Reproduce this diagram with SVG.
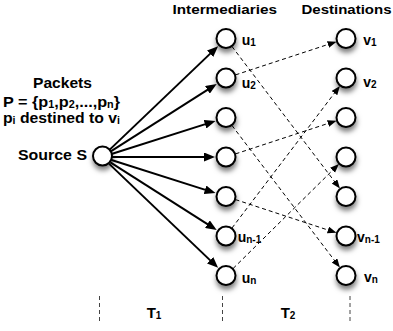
<svg xmlns="http://www.w3.org/2000/svg" width="393" height="331" viewBox="0 0 393 331">
<style>
  text { font-family: "Liberation Sans", Arial, Helvetica, sans-serif; font-weight: bold; fill: #000; }
  .hdr { font-size: 13.5px; }
  .lbl { font-size: 15px; }
  .nl { font-size: 14px; }
  .sub { font-size: 10px; }
  .node { fill: #fff; stroke: #000; stroke-width: 2; filter: url(#sh); }
  .solid { stroke: #000; stroke-width: 2; fill: none; marker-end: url(#ah); }
  .dash { stroke: #000; stroke-width: 1; fill: none; stroke-dasharray: 4 3; marker-end: url(#ahs); }
  .guide { stroke: #444; stroke-width: 1; stroke-dasharray: 4 3; fill: none; }
</style>
<defs>
  <filter id="sh" x="-80%" y="-80%" width="260%" height="280%">
    <feDropShadow dx="0.5" dy="4" stdDeviation="2.5" flood-color="#000" flood-opacity="0.5"/>
  </filter>
  <marker id="ah" markerUnits="userSpaceOnUse" markerWidth="12" markerHeight="9" refX="7" refY="4.5" orient="auto">
    <path d="M0,0 L11,4.5 L0,9 z" fill="#000"/>
  </marker>
  <marker id="ahs" markerUnits="userSpaceOnUse" markerWidth="10" markerHeight="8" refX="6" refY="3.5" orient="auto">
    <path d="M0,0 L9,3.5 L0,7 z" fill="#000"/>
  </marker>
</defs>

<g id="labels">
  <text class="hdr" x="172.5" y="13.5" textLength="104.5" lengthAdjust="spacingAndGlyphs">Intermediaries</text>
  <text class="hdr" x="301.5" y="13.5" textLength="90" lengthAdjust="spacingAndGlyphs">Destinations</text>
  <text class="lbl" x="33" y="88.3" textLength="59" lengthAdjust="spacingAndGlyphs">Packets</text>
  <text class="lbl" x="3" y="106.5" textLength="117" lengthAdjust="spacingAndGlyphs">P = {p<tspan class="sub" dy="1">1</tspan><tspan dy="-1">,p</tspan><tspan class="sub" dy="1">2</tspan><tspan dy="-1">,...,p</tspan><tspan class="sub" dy="1">n</tspan><tspan dy="-1">}</tspan></text>
  <text class="lbl" x="3" y="123.3" textLength="117" lengthAdjust="spacingAndGlyphs">p<tspan class="sub" dy="1">i</tspan><tspan dy="-1"> destined to v</tspan><tspan class="sub" dy="1">i</tspan></text>
  <text class="lbl" x="18" y="160" textLength="69" lengthAdjust="spacingAndGlyphs">Source S</text>
  <text class="lbl" x="146.7" y="317.7">T<tspan class="sub" dy="1">1</tspan></text>
  <text class="lbl" x="280.7" y="317.7">T<tspan class="sub" dy="1">2</tspan></text>
</g>

<g id="guides">
  <line class="guide" x1="99.5" y1="296" x2="99.5" y2="324"/>
  <line class="guide" x1="222.5" y1="296" x2="222.5" y2="324"/>
  <line class="guide" x1="350" y1="296" x2="350" y2="324"/>
</g>

<g id="connectors">
  <line class="solid" x1="109.2" y1="150.1" x2="215.2" y2="48.9"/>
  <line class="solid" x1="110.4" y1="151.6" x2="213.3" y2="86.1"/>
  <line class="solid" x1="111.5" y1="154.0" x2="211.7" y2="122.1"/>
  <line class="solid" x1="112" y1="157" x2="211" y2="157"/>
  <line class="solid" x1="111.5" y1="160.0" x2="211.7" y2="191.9"/>
  <line class="solid" x1="110.4" y1="162.4" x2="213.3" y2="227.9"/>
  <line class="solid" x1="109.2" y1="163.9" x2="215.2" y2="265.1"/>

  <line class="dash" x1="232.0" y1="46.5" x2="338.1" y2="186.2"/>
  <line class="dash" x1="235.5" y1="74.9" x2="333.7" y2="42.6"/>
  <line class="dash" x1="232.0" y1="125.5" x2="338.1" y2="265.2"/>
  <line class="dash" x1="235.5" y1="153.9" x2="333.7" y2="121.6"/>
  <line class="dash" x1="235.5" y1="199.6" x2="333.7" y2="231.9"/>
  <line class="dash" x1="232.0" y1="228.0" x2="338.1" y2="88.3"/>
  <line class="dash" x1="233.1" y1="268.5" x2="336.8" y2="166.1"/>
</g>

<g id="S"><circle class="node" cx="102.5" cy="156" r="9.5"/></g>

<g id="u1"><circle class="node" cx="226" cy="38.5" r="9.5"/><text class="nl" x="241.7" y="45">u<tspan class="sub" dy="1">1</tspan></text></g>
<g id="u2"><circle class="node" cx="226" cy="78" r="9.5"/><text class="nl" x="241.7" y="88.3">u<tspan class="sub" dy="1">2</tspan></text></g>
<g id="u3"><circle class="node" cx="226" cy="117.5" r="9.5"/></g>
<g id="u4"><circle class="node" cx="226" cy="157" r="9.5"/></g>
<g id="u5"><circle class="node" cx="226" cy="196.5" r="9.5"/></g>
<g id="un-1"><circle class="node" cx="226" cy="236" r="9.5"/><text class="nl" x="237.7" y="241.7">u<tspan class="sub" dy="1">n-1</tspan></text></g>
<g id="un"><circle class="node" cx="226" cy="275.5" r="9.5"/><text class="nl" x="241.7" y="282.7">u<tspan class="sub" dy="1">n</tspan></text></g>

<g id="v1"><circle class="node" cx="346" cy="38.5" r="9.5"/><text class="nl" x="363.3" y="45">v<tspan class="sub" dy="1">1</tspan></text></g>
<g id="v2"><circle class="node" cx="346" cy="78" r="9.5"/><text class="nl" x="363.3" y="86.7">v<tspan class="sub" dy="1">2</tspan></text></g>
<g id="v3"><circle class="node" cx="346" cy="117.5" r="9.5"/></g>
<g id="v4"><circle class="node" cx="346" cy="157" r="9.5"/></g>
<g id="v5"><circle class="node" cx="346" cy="196.5" r="9.5"/></g>
<g id="vn-1"><circle class="node" cx="346" cy="236" r="9.5"/><text class="nl" x="357" y="241.7">v<tspan class="sub" dy="1">n-1</tspan></text></g>
<g id="vn"><circle class="node" cx="346" cy="275.5" r="9.5"/><text class="nl" x="364" y="281.7">v<tspan class="sub" dy="1">n</tspan></text></g>
</svg>
